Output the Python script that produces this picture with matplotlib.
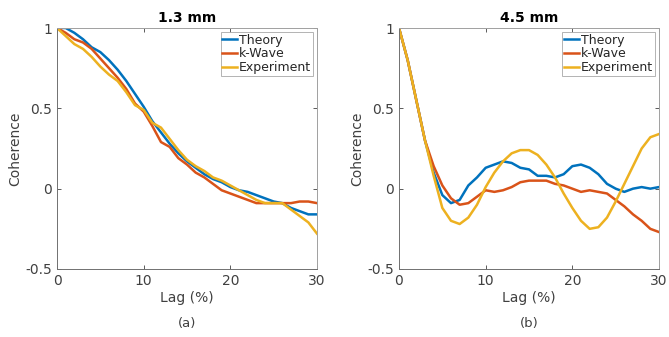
import matplotlib
matplotlib.use("Agg")
import matplotlib.pyplot as plt
import numpy as np

lag = list(range(0, 31))

# Panel (a) 1.3 mm
theory_a = [1.0, 1.0, 0.97, 0.93, 0.88, 0.85, 0.80, 0.74, 0.67, 0.59, 0.51, 0.42, 0.35, 0.28, 0.22,
            0.17, 0.13, 0.09, 0.06, 0.04, 0.01, -0.01, -0.02, -0.04, -0.06, -0.08, -0.09, -0.12, -0.14, -0.16, -0.16]
kwave_a = [1.0, 0.97, 0.93, 0.91, 0.87, 0.81, 0.75, 0.69, 0.62, 0.53, 0.48, 0.39, 0.29, 0.26, 0.19,
           0.15, 0.10, 0.07, 0.03, -0.01, -0.03, -0.05, -0.07, -0.09, -0.09, -0.09, -0.09, -0.09, -0.08, -0.08, -0.09]
exp_a = [1.0, 0.95, 0.90, 0.87, 0.82, 0.76, 0.71, 0.67, 0.60, 0.52, 0.49, 0.41, 0.38, 0.31, 0.24,
         0.18, 0.14, 0.11, 0.07, 0.05, 0.02, -0.01, -0.04, -0.07, -0.09, -0.09, -0.09, -0.13, -0.17, -0.21, -0.28]

# Panel (b) 4.5 mm
theory_b = [1.0, 0.80, 0.55, 0.30, 0.10, -0.04, -0.09, -0.07, 0.02, 0.07, 0.13, 0.15, 0.17, 0.16, 0.13,
            0.12, 0.08, 0.08, 0.07, 0.09, 0.14, 0.15, 0.13, 0.09, 0.03, 0.0, -0.02, 0.0, 0.01, 0.0, 0.01]
kwave_b = [1.0, 0.80, 0.55, 0.30, 0.14, 0.02, -0.06, -0.10, -0.09, -0.05, -0.01, -0.02, -0.01, 0.01, 0.04,
           0.05, 0.05, 0.05, 0.03, 0.02, 0.0, -0.02, -0.01, -0.02, -0.03, -0.07, -0.11, -0.16, -0.20, -0.25, -0.27]
exp_b = [1.0, 0.80, 0.55, 0.30, 0.08, -0.12, -0.20, -0.22, -0.18, -0.10, 0.01, 0.10, 0.17, 0.22, 0.24,
         0.24, 0.21, 0.15, 0.07, -0.03, -0.12, -0.20, -0.25, -0.24, -0.18, -0.08, 0.03, 0.14, 0.25, 0.32, 0.34]

titles = ["1.3 mm", "4.5 mm"]
panel_labels = ["(a)", "(b)"]
series_names = ["Theory", "k-Wave", "Experiment"]
colors = ["#0072BD", "#D95319", "#EDB120"]
xticks = [0, 10, 20, 30]
yticks = [-0.5, 0, 0.5, 1]
yticklabels = ["-0.5", "0", "0.5", "1"]

fig = plt.figure(figsize=(6.69, 3.37), dpi=100)
positions = [[57/669, 1-269/337, 260/669, 241/337], [399/669, 1-269/337, 260/669, 241/337]]
data = [(theory_a, kwave_a, exp_a), (theory_b, kwave_b, exp_b)]
textc = "#404040"
for i in range(2):
    ax = fig.add_axes(positions[i])
    for s, c, name in zip(data[i], colors, series_names):
        ax.plot(lag, s, color=c, lw=1.8, label=name)
    ax.set_xlim(0, 30)
    ax.set_ylim(-0.5, 1)
    ax.set_xticks(xticks)
    ax.set_yticks(yticks)
    ax.set_yticklabels(yticklabels)
    ax.tick_params(direction="in", top=True, right=True, labelsize=10, colors=textc, length=3, width=0.6)
    for sp in ax.spines.values():
        sp.set_color("#a0a0a0")
        sp.set_linewidth(0.7)
    ax.spines["left"].set_color("#707070")
    ax.spines["bottom"].set_color("#707070")
    ax.set_title(titles[i], fontsize=10, fontweight="bold", pad=4)
    ax.set_xlabel("Lag (%)", fontsize=10, color=textc, labelpad=2)
    ax.set_ylabel("Coherence", fontsize=10, color=textc, labelpad=2)
    leg = ax.legend(loc="upper right", fontsize=9, frameon=True, fancybox=False,
                    borderpad=0.15, labelspacing=0.05, handlelength=1.2, handletextpad=0.15,
                    borderaxespad=0.3)
    leg.get_frame().set_edgecolor("#a0a0a0")
    leg.get_frame().set_linewidth(0.7)
    for t in leg.get_texts():
        t.set_color("#262626")
    ax.text(0.5, -0.2, panel_labels[i], transform=ax.transAxes, ha="center", va="top",
            fontsize=9.5, color=textc)

fig.savefig("out.png", dpi=100)
